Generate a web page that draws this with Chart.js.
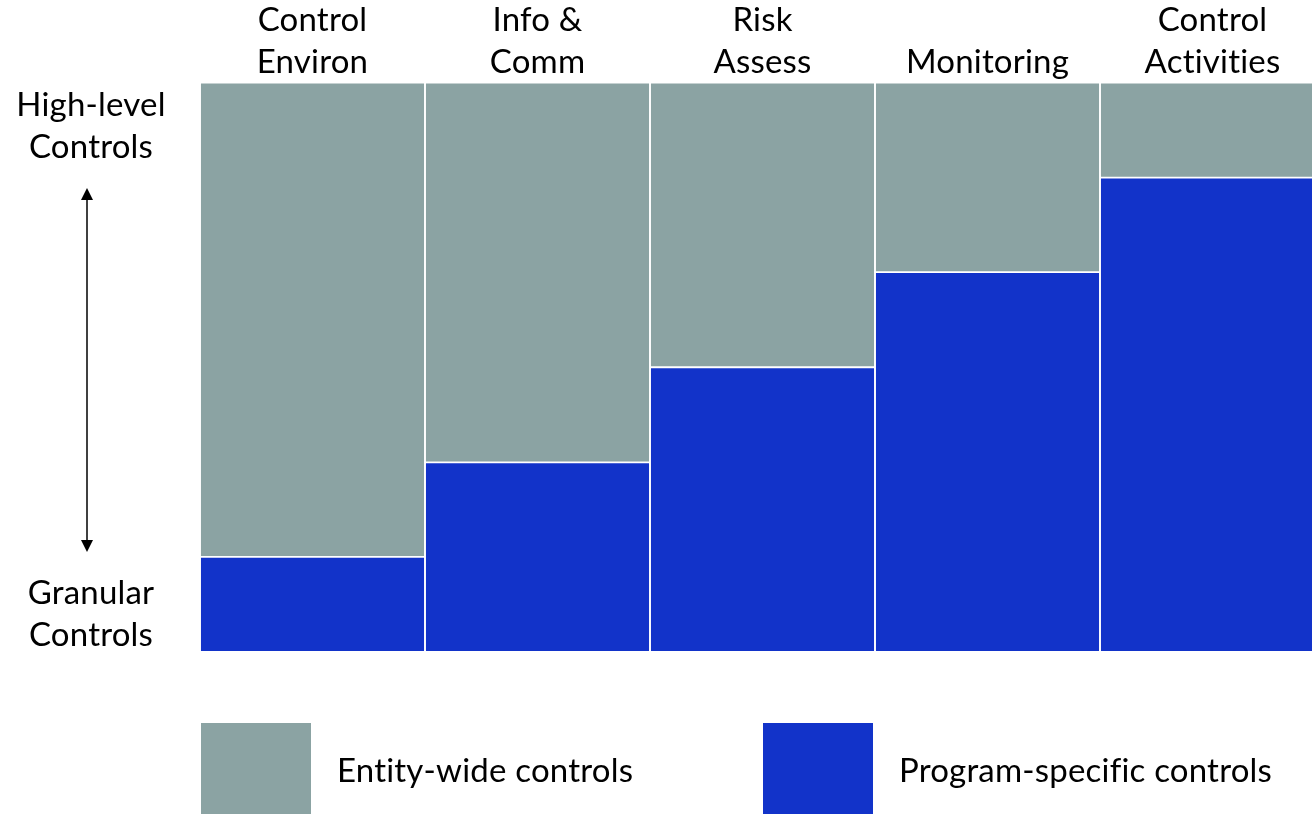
<!DOCTYPE html>
<html>
<head>
<meta charset="utf-8">
<script src="https://cdn.jsdelivr.net/npm/chart.js@4.4.1/dist/chart.umd.min.js"></script>
<style>
  html, body { margin: 0; padding: 0; background: #fff; overflow: hidden; }
  #wrap { position: relative; width: 1330px; height: 814px; }
</style>
</head>
<body>
<div id="wrap"><canvas id="c"></canvas></div>
<script>
// Control components, shown along the top
const categories = [
  ["Control", "Environ"],
  ["Info &", "Comm"],
  ["Risk", "Assess"],
  ["Monitoring"],
  ["Control", "Activities"]
];
// Share of each component (percent)
const entityWide = [83.3, 66.7, 50, 33.3, 16.7];
const programSpecific = [16.7, 33.3, 50, 66.7, 83.3];
const seriesNames = ["Entity-wide controls", "Program-specific controls"];
const seriesColors = ["#8ba3a3", "#1233c9"];
// Labels at the two ends of the vertical arrow
const topEndLabel = ["High-level", "Controls"];
const bottomEndLabel = ["Granular", "Controls"];

const FONT = "Lato";
const FONT_SIZE = 33;
const TRACKING = "0.2px"; // slight letter spacing, also keeps "ti" unligated

// Text spacing for everything drawn on the canvas
const textSpacing = {
  id: "textSpacing",
  beforeDraw(chart) {
    if ("letterSpacing" in chart.ctx) chart.ctx.letterSpacing = TRACKING;
  }
};

// Draws the arrow with its end labels and the legend boxes
const decorations = {
  id: "decorations",
  afterDraw(chart) {
    const ctx = chart.ctx;
    const area = chart.chartArea;
    ctx.save();
    if ("letterSpacing" in ctx) ctx.letterSpacing = TRACKING;
    ctx.fillStyle = "#000";
    ctx.strokeStyle = "#000";
    ctx.font = FONT_SIZE + "px " + FONT;
    ctx.textAlign = "center";
    ctx.textBaseline = "middle";

    const cx = 91;
    topEndLabel.forEach((t, i) => ctx.fillText(t, cx, area.top + 23 + i * 42));
    bottomEndLabel.forEach((t, i) => ctx.fillText(t, cx, area.bottom - 59 + i * 42));

    // double-headed arrow
    const ax = 87, y1 = 188, y2 = 552, head = 12, half = 6;
    ctx.lineWidth = 1.5;
    ctx.beginPath();
    ctx.moveTo(ax, y1 + head - 1);
    ctx.lineTo(ax, y2 - head + 1);
    ctx.stroke();
    ctx.beginPath();
    ctx.moveTo(ax, y1);
    ctx.lineTo(ax - half, y1 + head);
    ctx.lineTo(ax + half, y1 + head);
    ctx.closePath();
    ctx.fill();
    ctx.beginPath();
    ctx.moveTo(ax, y2);
    ctx.lineTo(ax - half, y2 - head);
    ctx.lineTo(ax + half, y2 - head);
    ctx.closePath();
    ctx.fill();

    // legend
    const order = [1, 0]; // entity-wide first, then program-specific
    const boxX = [201, 763];
    const boxY = 723, boxW = 110, boxH = 91;
    ctx.textAlign = "left";
    order.forEach((dsIndex, i) => {
      const ds = chart.data.datasets[dsIndex];
      ctx.fillStyle = ds.backgroundColor;
      ctx.fillRect(boxX[i], boxY, boxW, boxH);
      ctx.fillStyle = "#000";
      ctx.fillText(ds.label, boxX[i] + boxW + 26, boxY + 48);
    });
    ctx.restore();
  }
};

function build() {
  Chart.defaults.font.family = FONT;
  new Chart(document.getElementById("c"), {
    type: "bar",
    data: {
      labels: categories,
      datasets: [
        {
          label: seriesNames[1],
          data: programSpecific,
          backgroundColor: seriesColors[1],
          borderColor: "#ffffff",
          borderWidth: 1.3,
          borderSkipped: false
        },
        {
          label: seriesNames[0],
          data: entityWide,
          backgroundColor: seriesColors[0],
          borderColor: "#ffffff",
          borderWidth: 1.3,
          borderSkipped: false
        }
      ]
    },
    options: {
      responsive: true,
      maintainAspectRatio: false,
      animation: false,
      layout: { padding: { left: 200, right: 5, top: 0, bottom: 162 } },
      categoryPercentage: 1,
      barPercentage: 1,
      plugins: {
        legend: { display: false },
        tooltip: { enabled: false }
      },
      scales: {
        x: {
          position: "top",
          stacked: true,
          grid: { display: false, drawTicks: false },
          border: { display: false },
          ticks: {
            color: "#000",
            font: { size: FONT_SIZE, family: FONT, lineHeight: 1.25 },
            padding: 0,
            maxRotation: 0,
            autoSkip: false
          }
        },
        y: {
          display: false,
          stacked: true,
          min: 0,
          max: 100
        }
      }
    },
    plugins: [textSpacing, decorations]
  });
}

if (document.fonts && document.fonts.load) {
  document.fonts.load(FONT_SIZE + "px " + FONT).then(build, build);
} else {
  build();
}
</script>
</body>
</html>
